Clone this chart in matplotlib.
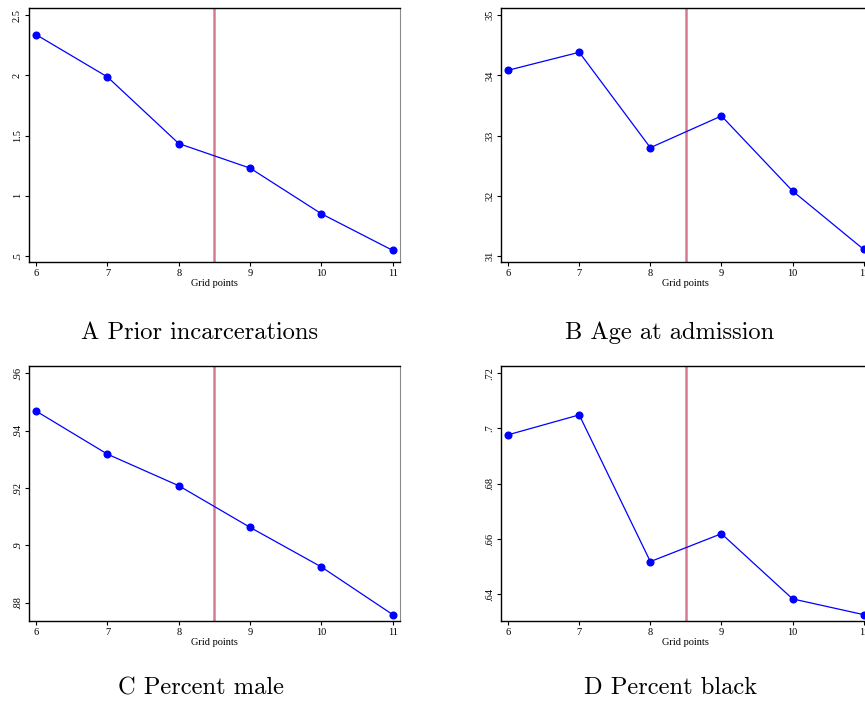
import matplotlib.pyplot as plt

grid = [6, 7, 8, 9, 10, 11]
prior_incarcerations = [2.337, 1.986, 1.433, 1.229, 0.850, 0.546]
age_at_admission = [34.086, 34.385, 32.80, 33.327, 32.08, 31.11]
percent_male = [0.9468, 0.9318, 0.9208, 0.9063, 0.8925, 0.8759]
percent_black = [0.6977, 0.7049, 0.6518, 0.6619, 0.6383, 0.6326]

yticks_a = [0.5, 1, 1.5, 2, 2.5]
ylabels_a = [".5", "1", "1.5", "2", "2.5"]
yticks_b = [31, 32, 33, 34, 35]
ylabels_b = ["31", "32", "33", "34", "35"]
yticks_c = [0.88, 0.9, 0.92, 0.94, 0.96]
ylabels_c = [".88", ".9", ".92", ".94", ".96"]
yticks_d = [0.64, 0.66, 0.68, 0.7, 0.72]
ylabels_d = [".64", ".66", ".68", ".7", ".72"]

cutoff = 8.5

panels = [
    ([0.0335, 0.6278, 0.4289, 0.3608], prior_incarcerations, yticks_a, ylabels_a, (0.45, 2.558),
     "A Prior incarcerations", (0.2312, 0.527)),
    ([0.5792, 0.6278, 0.4275, 0.3608], age_at_admission, yticks_b, ylabels_b, (30.9, 35.12),
     "B Age at admission", (0.7746, 0.527)),
    ([0.0335, 0.1179, 0.4289, 0.3622], percent_male, yticks_c, ylabels_c, (0.8737, 0.9625),
     "C Percent male", (0.2324, 0.0227)),
    ([0.5792, 0.1179, 0.4275, 0.3622], percent_black, yticks_d, ylabels_d, (0.6303, 0.7226),
     "D Percent black", (0.7757, 0.0227)),
]

fig = plt.figure(figsize=(8.65, 7.04), dpi=100)
for rect, vals, yt, yl, ylim, caption, cpos in panels:
    ax = fig.add_axes(rect)
    ax.axvline(cutoff, color="#d97a93", lw=1.8, zorder=1)
    ax.plot(grid, vals, color="#0000ff", lw=0.9, marker="o", ms=4.8, zorder=3)
    ax.set_xlim(5.9, 11.1)
    ax.set_ylim(*ylim)
    ax.set_xticks(grid)
    ax.set_xticklabels([str(g) for g in grid], fontfamily="Liberation Serif", fontsize=7.5)
    ax.set_yticks(yt)
    ax.set_yticklabels(yl, fontfamily="Liberation Serif", fontsize=7.5, rotation=90, va="center")
    ax.tick_params(direction="out", length=3, width=0.8, pad=2)
    ax.set_xlabel("Grid points", fontfamily="Liberation Serif", fontsize=7.5, labelpad=1)
    for s in ["left", "bottom", "top"]:
        ax.spines[s].set_linewidth(1.0)
    ax.spines["right"].set_color("#8c8c8c")
    fig.text(cpos[0], cpos[1], caption, fontfamily="cmr10", fontsize=17.6,
             ha="center", va="center")

fig.savefig("out.png", dpi=100)
